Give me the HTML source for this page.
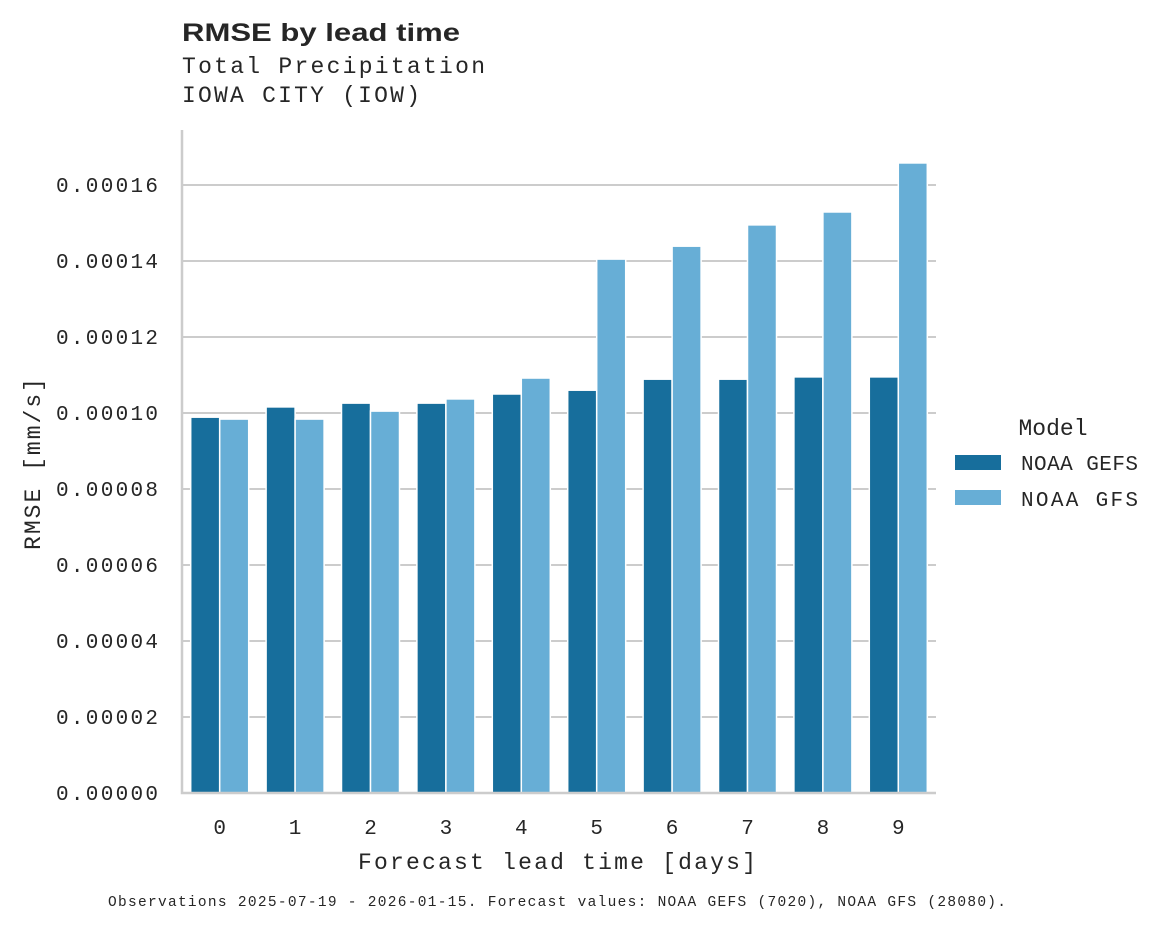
<!DOCTYPE html>
<html><head><meta charset="utf-8"><style>
html,body{margin:0;padding:0;background:#fff;}
svg text{font-family:"Liberation Mono",monospace;fill:#262626;}
</style></head><body>
<svg id="chart" width="1175" height="928" xmlns="http://www.w3.org/2000/svg">
<text x="182" y="41" textLength="278" lengthAdjust="spacingAndGlyphs" style="font-family:'Liberation Sans',sans-serif;font-weight:bold;font-size:25px">RMSE by lead time</text>
<text x="182" y="73" font-size="23" textLength="303">Total Precipitation</text>
<text x="182" y="102" font-size="23" textLength="238">IOWA CITY (IOW)</text>
<g id="grid"></g><g id="bars"></g><g id="axes"></g>
<text x="358" y="869" font-size="23" textLength="398">Forecast lead time [days]</text>
<text transform="translate(40,464) rotate(-90)" font-size="23" text-anchor="middle" textLength="172">RMSE [mm/s]</text>
<g>
<text x="1053" y="435" font-size="23" text-anchor="middle">Model</text>
<rect x="955" y="455" width="46" height="15" fill="#176e9c"/>
<text x="1021" y="470" font-size="21" textLength="117">NOAA GEFS</text>
<rect x="955" y="490" width="46" height="15" fill="#67aed6"/>
<text x="1021" y="506" font-size="21" textLength="117">NOAA GFS</text>
</g>
<text x="108" y="906" font-size="14.5" textLength="898">Observations 2025-07-19 - 2026-01-15. Forecast values: NOAA GEFS (7020), NOAA GFS (28080).</text>
</svg>
<script>
const categories=["0","1","2","3","4","5","6","7","8","9"];
const gefsValues=[0.0000989,0.0001016,0.0001026,0.0001026,0.0001050,0.0001060,0.0001089,0.0001089,0.0001095,0.0001095];
const gfsValues=[0.0000984,0.0000984,0.0001005,0.0001037,0.0001092,0.0001405,0.0001439,0.0001495,0.0001529,0.0001658];
const yTicks=[0,0.00002,0.00004,0.00006,0.00008,0.0001,0.00012,0.00014,0.00016];
const yTickLabels=["0.00000","0.00002","0.00004","0.00006","0.00008","0.00010","0.00012","0.00014","0.00016"];
const NS="http://www.w3.org/2000/svg";
const x0=182,x1=936,y0=793,ppu=608/0.00016;
const y=v=>y0-v*ppu;
const bw=(x1-x0)/categories.length;
function mk(t,a,p){const e=document.createElementNS(NS,t);for(const k in a)e.setAttribute(k,a[k]);p.appendChild(e);return e;}
const grid=document.getElementById('grid'),bars=document.getElementById('bars'),axes=document.getElementById('axes');
yTicks.forEach((t,i)=>{
 if(t>0){const l=mk('line',{x1:x0,x2:x1,y1:y(t),y2:y(t),stroke:'#cccccc','stroke-width':2},grid);
 
 }
 const tx=mk('text',{x:56,y:y(t)+7,'font-size':21,textLength:102},axes);tx.textContent=yTickLabels[i];
 
 
});
categories.forEach((c,i)=>{
 const cx=x0+bw*(i+0.5);
 const a=mk('rect',{x:cx-29,y:y(gefsValues[i]),width:29,height:gefsValues[i]*ppu,fill:'#176e9c',stroke:'#fff','stroke-width':1.5},bars);
 
 
 const b=mk('rect',{x:cx,y:y(gfsValues[i]),width:29,height:gfsValues[i]*ppu,fill:'#67aed6',stroke:'#fff','stroke-width':1.5},bars);
 
 
 const t=mk('text',{x:cx,y:834,'font-size':21,'text-anchor':'middle'},axes);t.textContent=c;
 
 
});
const ax=mk('path',{d:`M${x0} 130V${y0}H${x1}`,fill:'none',stroke:'#cccccc','stroke-width':2.5},axes);


</script>
</body></html>
